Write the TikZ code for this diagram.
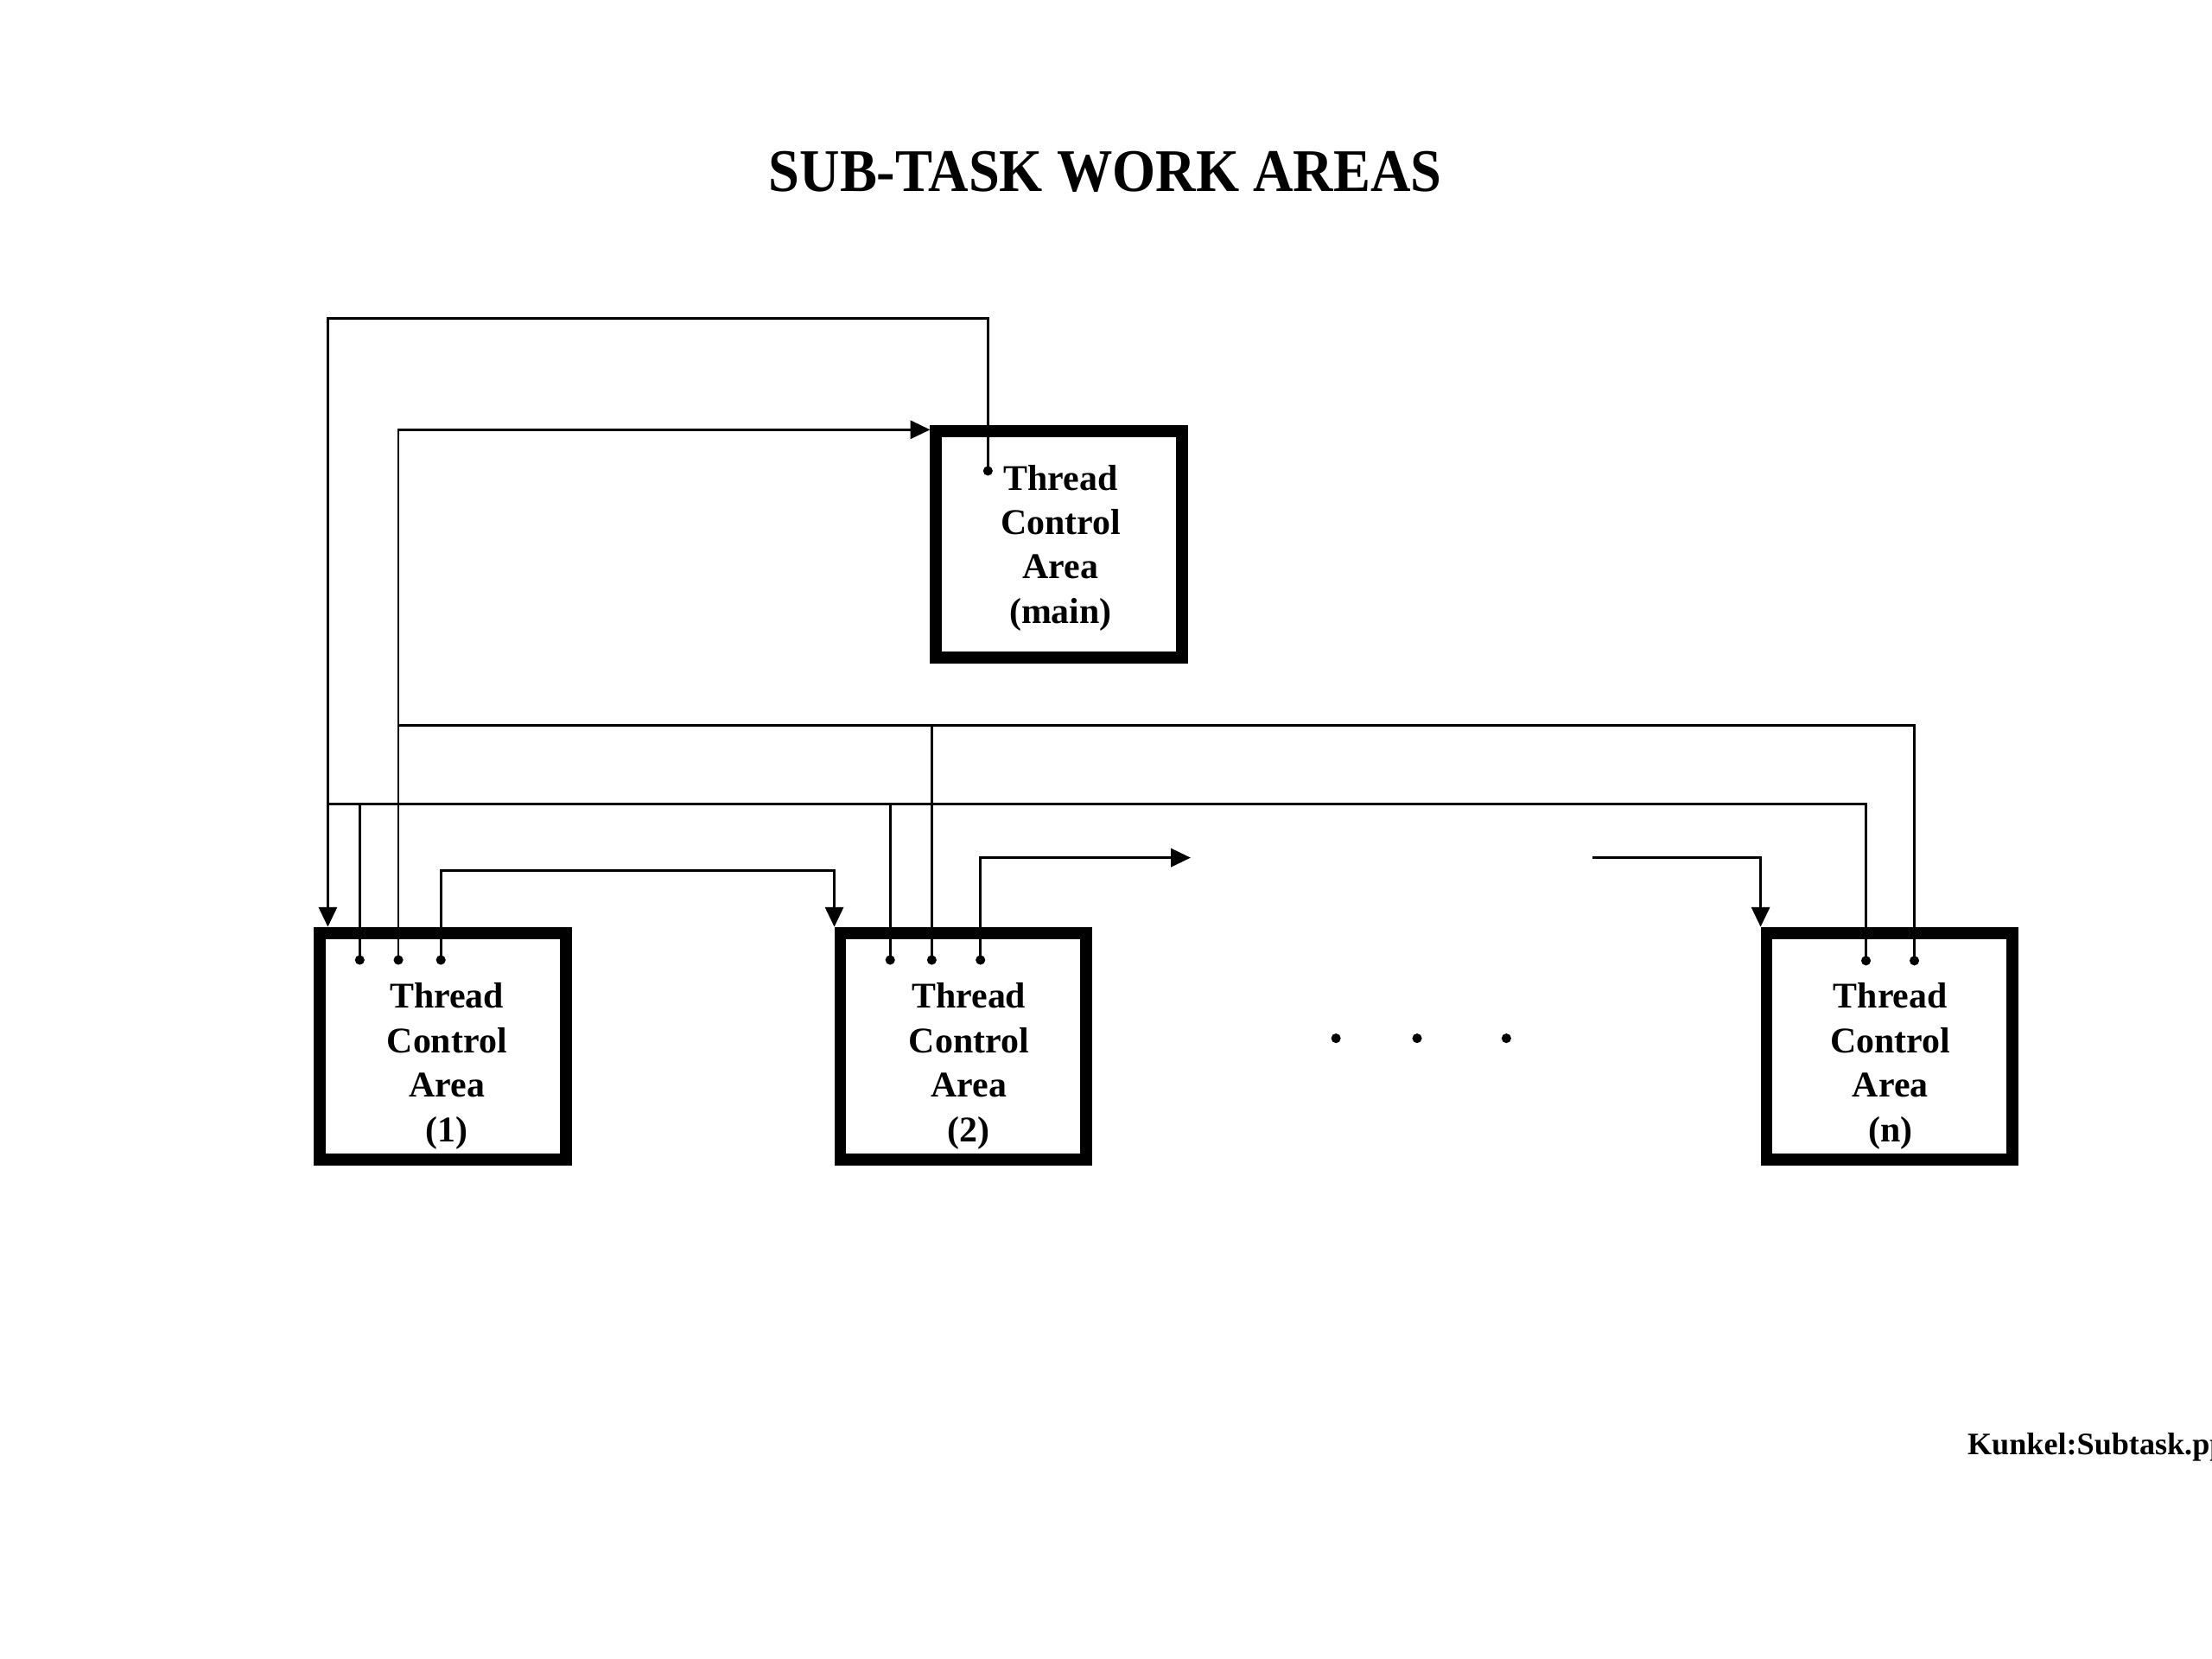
\documentclass[tikz,border=0pt]{standalone}
\usepackage{fontspec}
\setmainfont{Liberation Serif}
\newfontfamily\titlefont{Liberation Serif}[FakeStretch=0.92]
\usepackage{tikz}
\usetikzlibrary{arrows.meta,calc}

\tikzset{
  tca/.style={draw, line width=0.085cm, minimum width=1.745cm, minimum height=1.605cm, inner sep=0pt},
  tcatext/.style={align=center, font=\fontsize{7.3}{8.95}\selectfont\bfseries},
  conn/.style={line width=0.017cm},
  arr/.style={-{Triangle[length=0.14cm,width=0.13cm]}},
}

\begin{document}
\begin{tikzpicture}[x=1cm,y=-1cm]
  \useasboundingbox (0,0) rectangle (15.68,11.76);
  % title and file name
  \node[anchor=base, font=\titlefont\fontsize{12.2}{14}\selectfont\bfseries] (title) at (7.835,1.354) {SUB-TASK WORK AREAS};
  \node[anchor=base west, inner sep=0pt, font=\fontsize{6.3}{7.5}\selectfont\bfseries] (file) at (13.94,10.31) {Kunkel:Subtask.pp};

  % thread control areas
  \node[tca] (main) at (7.508,3.858) {};
  \node[tca] (tca1) at (3.138,7.415) {};
  \node[tca] (tca2) at (6.829,7.415) {};
  \node[tca] (tcan) at (13.395,7.415) {};
  \node[tcatext] (mainlbl) at (7.518,3.884) {Thread\\Control\\Area\\(main)};
  \node[tcatext] (lbl1) at (3.168,7.558) {Thread\\Control\\Area\\(1)};
  \node[tcatext] (lbl2) at (6.868,7.558) {Thread\\Control\\Area\\(2)};
  \node[tcatext] (lbln) at (13.40,7.558) {Thread\\Control\\Area\\(n)};

  % connection points
  \coordinate (m1) at (7.003,3.338);
  \foreach \n/\x in {a/2.55, b/2.824, c/3.125} {
    \coordinate (p1\n) at (\x,6.805);
  }
  \foreach \n/\x in {a/6.31, b/6.605, c/6.95} {
    \coordinate (p2\n) at (\x,6.805);
  }
  \coordinate (pna) at (13.227,6.81);
  \coordinate (pnb) at (13.57,6.81);
  \coordinate (gapl) at (8.44,6.08);
  \coordinate (gapr) at (11.29,6.08);

  % main -> (1)
  \draw[conn,arr] (m1) -- (m1 |- 0,2.256) -| (tca1.north -| 2.324,0);
  % (1) -> main
  \draw[conn,arr] (p1b) |- (main.west |- 0,3.046);
  \draw[conn] (p1b |- 0,5.14) -| (pnb);
  \draw[conn] (p2b) -- (p2b |- 0,5.14);
  % common line
  \draw[conn] (2.324,5.70) -| (pna);
  \draw[conn] (p1a) -- (p1a |- 0,5.70);
  \draw[conn] (p2a) -- (p2a |- 0,5.70);
  % (1) -> (2) -> ... -> (n)
  \draw[conn,arr] (p1c) -- (p1c |- 0,6.17) -| (tca2.north west);
  \draw[conn,arr] (p2c) |- (gapl);
  \draw[conn,arr] (gapr) -| (tcan.north west);

  \foreach \p in {m1,p1a,p1b,p1c,p2a,p2b,p2c,pna,pnb} {
    \fill (\p) circle (0.034);
  }
  % dots between (2) and (n)
  \foreach \x in {9.47,10.045,10.678} {
    \fill (\x,7.36) circle (0.034);
  }
\end{tikzpicture}
\end{document}
